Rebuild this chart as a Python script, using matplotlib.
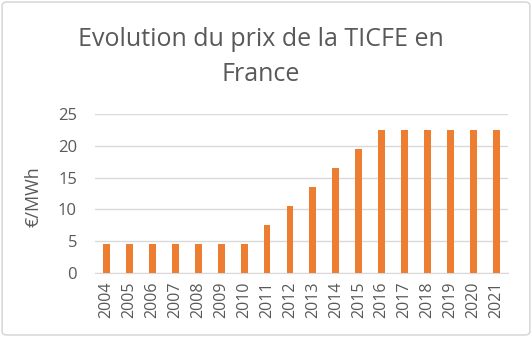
import matplotlib.pyplot as plt
from matplotlib.patches import FancyBboxPatch

years = [str(y) for y in range(2004, 2022)]
prix = [4.5, 4.5, 4.5, 4.5, 4.5, 4.5, 4.5, 7.5, 10.5, 13.5, 16.5, 19.5,
        22.5, 22.5, 22.5, 22.5, 22.5, 22.5]

plt.rcParams['font.family'] = ['Open Sans', 'DejaVu Sans']
txt = '#595959'

fig = plt.figure(figsize=(5.32, 3.37), dpi=100)
ax = fig.add_axes([0.1786, 0.19, 0.776, 0.472])

ax.bar(years, prix, width=0.3, color='#ED7D31', zorder=3)
ax.set_xlim(-0.5, len(years) - 0.5)
ax.set_ylim(0, 25)
ax.set_yticks([0, 5, 10, 15, 20, 25])
ax.grid(axis='y', color='#D9D9D9', linewidth=1, zorder=0)
for s in ['top', 'right', 'left']:
    ax.spines[s].set_visible(False)
ax.spines['bottom'].set_color('#D9D9D9')
ax.tick_params(axis='both', length=0, colors=txt)
ax.tick_params(axis='x', rotation=90, pad=6, labelsize=11.5)
ax.tick_params(axis='y', pad=13, labelsize=12)
ax.set_ylabel('€/MWh', color=txt, fontsize=13)
ax.yaxis.set_label_coords(-0.128, 0.48)

fig.text(0.49, 0.882, 'Evolution du prix de la TICFE en', ha='center',
         va='center', fontsize=18, color=txt)
fig.text(0.49, 0.778, 'France', ha='center', va='center', fontsize=18, color=txt)

border = FancyBboxPatch((0.004, 0.006), 0.992, 0.988,
                        boxstyle='round,pad=0,rounding_size=0.01',
                        transform=fig.transFigure, fill=False,
                        edgecolor='#D9D9D9', linewidth=1.2)
fig.patches.append(border)

fig.savefig('out.png', dpi=100)
